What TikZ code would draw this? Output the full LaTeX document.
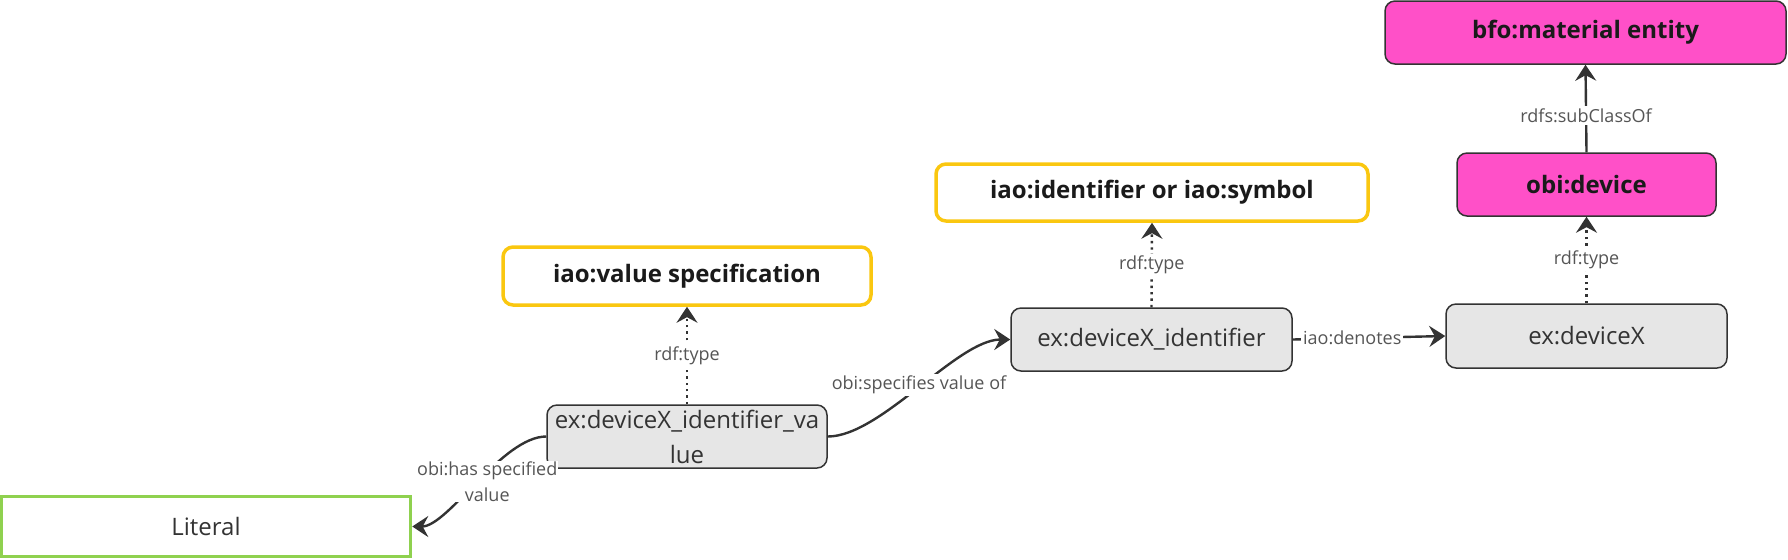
\documentclass[tikz,border=0pt]{standalone}
\usepackage{fontspec}
\setmainfont{Open Sans}
\usetikzlibrary{arrows.meta}
\definecolor{linec}{HTML}{333333}
\definecolor{textc}{HTML}{333333}
\definecolor{boldc}{HTML}{1A1A1A}
\definecolor{labc}{HTML}{555555}
\definecolor{instfill}{HTML}{E6E6E6}
\definecolor{yel}{HTML}{FAC710}
\definecolor{pinkfill}{HTML}{FF50C8}
\definecolor{grn}{HTML}{8FD14F}
\tikzset{
  base/.style={inner sep=0pt, align=center},
  inst/.style={base, draw=linec, fill=instfill, rounded corners=5pt, line width=0.75pt,
    text=textc, font=\fontsize{12}{17.5}\selectfont},
  ycls/.style={base, draw=yel, fill=white, rounded corners=5pt, line width=1.75pt,
    text=boldc, font=\fontsize{12}{15}\selectfont\bfseries},
  pcls/.style={base, draw=linec, fill=pinkfill, rounded corners=5pt, line width=0.75pt,
    text=boldc, font=\fontsize{12}{15}\selectfont\bfseries},
  litbox/.style={base, draw=grn, fill=white, line width=1.75pt,
    text=textc, font=\fontsize{12}{15}\selectfont},
  conn/.style={draw=linec, line width=1.2pt, -{Stealth[length=8pt,width=10.5pt,inset=2.8pt]}},
  typ/.style={conn, dotted},
  elab/.style={fill=white, inner sep=1pt, text=labc, align=center,
    font=\fontsize{9}{13}\selectfont},
}
\begin{document}
\begin{tikzpicture}[x=0.5pt,y=-0.5pt]
\useasboundingbox (0,0) rectangle (1788,559);
% nodes
\node[pcls, minimum width=200.5pt, minimum height=31.5pt] (bfo) at (1585.5,32.5) {bfo:material entity};
\node[pcls, minimum width=129.5pt, minimum height=31.5pt] (dev) at (1586.5,184.5) {obi:device};
\node[inst, minimum width=140.5pt, minimum height=32pt] (devx) at (1586.5,336) {ex:deviceX};
\node[ycls, minimum width=216pt, minimum height=28.5pt] (idcls) at (1152,192.5) {iao:identifier or iao:symbol};
\node[inst, minimum width=140.5pt, minimum height=31.5pt] (ident) at (1151.5,339.5) {ex:deviceX\_identifier};
\node[ycls, minimum width=184pt, minimum height=29pt] (vspec) at (687,276) {iao:value specification};
\node[inst, minimum width=140pt, minimum height=31.5pt] (val) at (687,436.5) {ex:deviceX\_identifier\_va\\lue};
\node[litbox, minimum width=204.5pt, minimum height=30pt] (lit) at (206,526.5) {Literal};
% connectors
\draw[typ] (val.north) -- node[elab]{rdf:type} (vspec.south);
\draw[typ] (ident.north) -- node[elab]{rdf:type} (idcls.south);
\draw[typ] (devx.north) -- node[elab]{rdf:type} (dev.south);
\draw[conn] (dev.north) -- node[elab,pos=0.42]{rdfs:subClassOf} (bfo.south);
\draw[conn] (ident.east) -- node[elab,pos=0.39]{iao:denotes} (devx.west);
\draw[conn] (val.east) .. controls +(26.5pt,0) and +(-26.5pt,0) .. node[elab,yshift=1.5pt]{obi:specifies value of} (ident.west);
\draw[conn] (val.west) .. controls +(-22pt,0) and +(18pt,0) .. node[elab,pos=0.5,xshift=5.5pt,inner sep=0.5pt]{obi:has specified\\value} (lit.east);
\end{tikzpicture}
\end{document}
